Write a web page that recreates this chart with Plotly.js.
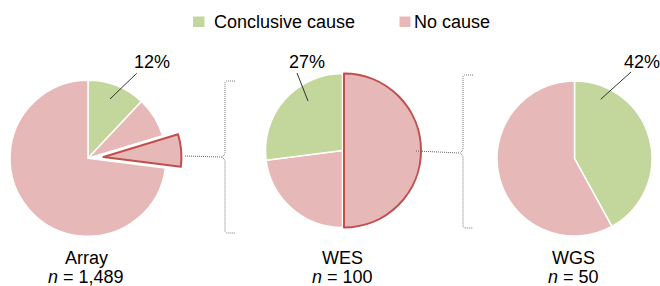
<!DOCTYPE html>
<html><head><meta charset="utf-8">
<script src="https://cdn.plot.ly/plotly-3.0.1.min.js"></script>
<style>html,body{margin:0;padding:0;background:#fff}</style>
</head><body><div id="chart" style="width:660px;height:286px"></div>
<script>
// ---- data ----
const categories = ['Conclusive cause', 'No cause'];
const tests = ['Array', 'WES', 'WGS'];
const testN = ['1,489', '100', '50'];
// Array: conclusive, no cause (other), no cause sent on to WES, no cause (rest)
const arrayLabels = ['Conclusive cause', 'No cause (a)', 'No cause → WES', 'No cause (b)'];
const arrayValues = [12, 8.3, 6.7, 73];
// WES: no cause sent on to WGS, no cause, conclusive
const wesLabels = ['No cause → WGS', 'No cause', 'Conclusive cause'];
const wesValues = [50, 23, 27];
const wgsLabels = ['Conclusive cause', 'No cause'];
const wgsValues = [42, 58];

// ---- styles ----
const GREEN = '#c3d69b', PINK = '#e6b8b7', RED = '#c0504d', T = 'rgba(0,0,0,0)';
const W = 660, H = 286;
const px = x => x / W, py = y => 1 - y / H;
const dom = (cx, cy, r) => ({x: [px(cx - r), px(cx + r)], y: [py(cy + r), py(cy - r)]});
const base = {type: 'pie', sort: false, direction: 'clockwise', rotation: 0,
  textinfo: 'none', hoverinfo: 'label+percent', showlegend: false};

// Array pie
const arrC = [88, 158.3, 78];
// pulled slice offset
const pullPx = 15.5;
const s0 = arrayValues.slice(0, 2).reduce((a, b) => a + b, 0), tot = arrayValues.reduce((a, b) => a + b, 0);
const mid = (s0 + arrayValues[2] / 2) / tot * 2 * Math.PI;
const offX = pullPx * Math.sin(mid), offY = -pullPx * Math.cos(mid);

const traces = [
  Object.assign({}, base, {labels: arrayLabels, values: arrayValues, domain: dom(...arrC),
    marker: {colors: [GREEN, PINK, T, PINK], line: {color: ['#fff', '#fff', T, '#fff'], width: 1.5}}}),
  Object.assign({}, base, {labels: arrayLabels, values: arrayValues,
    domain: dom(arrC[0] + offX, arrC[1] + offY, arrC[2]),
    marker: {colors: [T, T, PINK, T], line: {color: [T, T, RED, T], width: 2}}}),
  Object.assign({}, base, {labels: wesLabels, values: wesValues, domain: dom(342.5, 150.5, 77),
    marker: {colors: [T, PINK, GREEN], line: {color: [T, '#fff', '#fff'], width: 1.5}}}),
  Object.assign({}, base, {labels: wesLabels, values: wesValues, domain: dom(344, 150.5, 77),
    marker: {colors: [PINK, T, T], line: {color: [RED, T, T], width: 2}}}),
  Object.assign({}, base, {labels: wgsLabels, values: wgsValues, domain: dom(574.5, 158.5, 77.5),
    marker: {colors: [GREEN, PINK], line: {color: '#fff', width: 1.5}}})
];

const FONT = 'Liberation Sans, Arial, Helvetica, sans-serif';
const ann = (x, y, text, anchor) => ({xref: 'paper', yref: 'paper', x: px(x), y: py(y), text: text,
  showarrow: false, xanchor: anchor || 'center', yanchor: 'middle', font: {family: FONT, size: 18, color: '#000'}});
const pct = v => Math.round(v) + '%';

const annotations = [
  ann(151.5, 62, pct(arrayValues[0])),
  ann(306.5, 62, pct(wesValues[2])),
  ann(641.5, 62, pct(wgsValues[0])),
  ann(86, 257.5, tests[0]), ann(86, 276.5, '<i>n</i> = ' + testN[0]),
  ann(342.5, 257.5, tests[1]), ann(342.5, 276.5, '<i>n</i> = ' + testN[1]),
  ann(573.5, 257.5, tests[2]), ann(573.5, 276.5, '<i>n</i> = ' + testN[2]),
  ann(211.5, 21.5, categories[0], 'left'),
  ann(411.5, 21.5, categories[1], 'left')
];

const line = (x0, y0, x1, y1, c, dash) => ({type: 'line', xref: 'paper', yref: 'paper',
  x0: px(x0), y0: py(y0), x1: px(x1), y1: py(y1), line: {color: c, width: 1, dash: dash || 'solid'}});
const path = pts => 'M' + pts.map(p => px(p[0]) + ',' + py(p[1])).join(' L');
const bracket = (x, top, midY, bot, tick) => ({type: 'path', xref: 'paper', yref: 'paper',
  path: path([[x + tick, top], [x + 1.5, top], [x, top + 1.5], [x, midY - 3], [x - 3, midY], [x, midY + 3], [x, bot - 1.5], [x + 1.5, bot], [x + tick, bot]]),
  line: {color: '#777', width: 1, dash: '1px,1px'}});
const rect = (x0, y0, x1, y1, c) => ({type: 'rect', xref: 'paper', yref: 'paper',
  x0: px(x0), y0: py(y0), x1: px(x1), y1: py(y1), fillcolor: c, line: {width: 0}});

const shapes = [
  line(136.7, 73.3, 110, 99, '#333'),
  line(297, 73, 308, 101, '#333'),
  line(631, 72, 600.7, 99.3, '#333'),
  line(185, 156, 222, 157, '#666', '1px,1px'),
  line(416, 151, 460, 153, '#666', '1px,1px'),
  bracket(225, 81, 157, 233, 10),
  bracket(463, 75, 153, 228, 10),
  rect(193, 16.5, 204.5, 27, GREEN),
  rect(399.5, 16.5, 410.5, 27, PINK)
];

Plotly.newPlot('chart', traces, {width: W, height: H, margin: {l: 0, r: 0, t: 0, b: 0},
  showlegend: false, paper_bgcolor: '#fff', annotations: annotations, shapes: shapes,
  font: {family: FONT}}, {displayModeBar: false, staticPlot: true});
</script></body></html>
